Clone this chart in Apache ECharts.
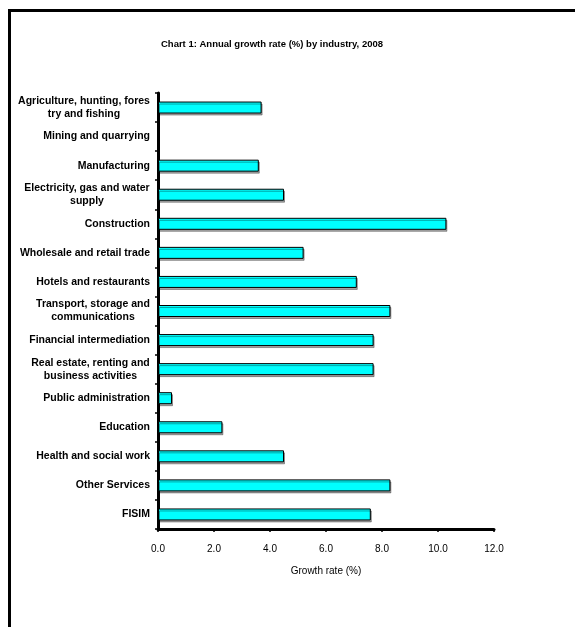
<!DOCTYPE html>
<html>
<head>
<meta charset="utf-8">
<script src="https://cdn.jsdelivr.net/npm/echarts@6/dist/echarts.min.js"></script>
<style>
  html, body { margin: 0; padding: 0; background: #fff; }
  #chart { position: absolute; left: 0; top: 0; width: 575px; height: 627px; }
  #frame { position: absolute; left: 8px; top: 9px; width: 600px; height: 700px;
           border-top: 3px solid #000; border-left: 3px solid #000; pointer-events: none; }
</style>
</head>
<body>
<div id="chart"></div>
<div id="frame"></div>
<script>
// 行业类别（自上而下）
const industries = [
  'Agriculture, hunting, fores\ntry and fishing',
  'Mining and quarrying',
  'Manufacturing',
  'Electricity, gas and water\nsupply',
  'Construction',
  'Wholesale and retail trade',
  'Hotels and restaurants',
  'Transport, storage and\ncommunications',
  'Financial intermediation',
  'Real estate, renting and\nbusiness activities',
  'Public administration',
  'Education',
  'Health and social work',
  'Other Services',
  'FISIM'
];

// 2008 年增长率 (%)
const growthRates = [3.7, null, 3.6, 4.5, 10.3, 5.2, 7.1, 8.3, 7.7, 7.7, 0.5, 2.3, 4.5, 8.3, 7.6];

const xTicks = [0, 2, 4, 6, 8, 10, 12];

const fontFamily = 'Liberation Sans, Arial, sans-serif';
const labelSize = 10.5;
const labelFont = 'bold ' + labelSize + 'px ' + fontFamily;

/** 多行标签：每行居中，整体右对齐 */
const ctx = document.createElement('canvas').getContext('2d');
ctx.font = labelFont;
const rich = {};
const labelKeys = industries.map((name, i) => {
  const lines = name.split('\n');
  if (lines.length === 1) return null;
  const w = Math.ceil(Math.max(...lines.map(s => ctx.measureText(s).width)));
  rich['w' + i] = { width: w, align: 'center', fontWeight: 'bold', fontSize: labelSize, lineHeight: 13, color: '#000', fontFamily };
  return 'w' + i;
});

const chart = echarts.init(document.getElementById('chart'));

const option = {
  animation: false,
  textStyle: { fontFamily },
  title: {
    text: 'Chart 1: Annual growth rate (%) by industry, 2008',
    left: 267, top: 34, textAlign: 'center',
    textStyle: { fontSize: 9.5, fontWeight: 'bold', color: '#000' }
  },
  grid: { left: 158, top: 93, width: 336, height: 436, containLabel: false, outerBoundsMode: 'none' },
  xAxis: {
    type: 'value',
    min: 0, max: 12, interval: 2,
    name: 'Growth rate (%)',
    nameLocation: 'middle',
    nameGap: 37,
    nameTextStyle: { fontSize: 10, color: '#000' },
    axisLine: { show: true, lineStyle: { color: '#000', width: 3 } },
    axisTick: { show: true, length: 3, lineStyle: { color: '#000', width: 1.5 } },
    axisLabel: { color: '#000', fontSize: 10, margin: 15, formatter: v => v.toFixed(1) },
    splitLine: { show: false }
  },
  yAxis: {
    type: 'category',
    inverse: true,
    data: industries,
    axisLine: { show: true, lineStyle: { color: '#000', width: 3 } },
    axisTick: { show: true, length: 3, lineStyle: { color: '#000', width: 1.5 } },
    axisLabel: {
      color: '#000', fontSize: labelSize, fontWeight: 'bold', margin: 8, lineHeight: 13,
      interval: 0,
      formatter: (val, idx) => {
        const key = labelKeys[idx];
        if (!key) return val;
        return val.split('\n').map(s => '{' + key + '|' + s + '}').join('\n');
      },
      rich
    }
  },
  series: [
    {
      type: 'bar',
      data: growthRates,
      barWidth: 12,
      itemStyle: {
        color: '#00ffff',
        borderColor: '#000',
        borderWidth: 1,
        shadowColor: 'rgba(0,0,0,0.35)',
        shadowOffsetX: 1,
        shadowOffsetY: 2,
        shadowBlur: 0
      }
    }
  ]
};

chart.setOption(option);
</script>
</body>
</html>
